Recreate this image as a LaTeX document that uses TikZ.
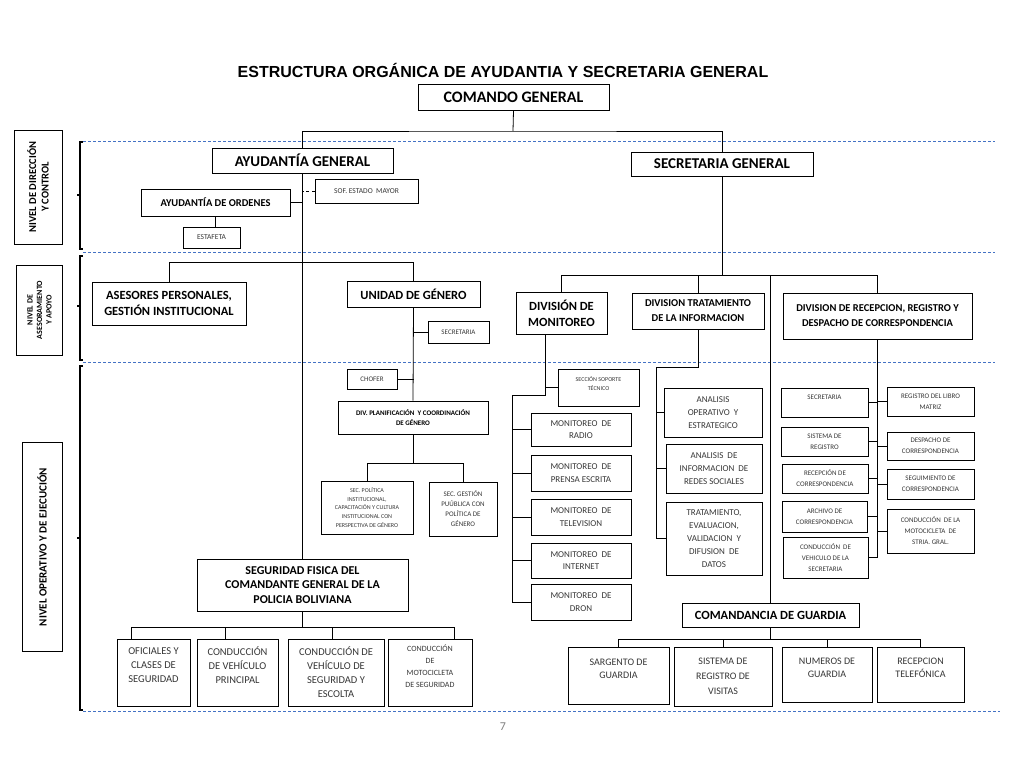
\documentclass[tikz,border=0pt]{standalone}
\usepackage{fontspec}
\setmainfont{Carlito}
\newfontfamily\arialfont{Liberation Sans}
\newcommand\fsz[2]{\fontsize{#1}{#2}\selectfont}
\newcommand\bx[7][]{\node[box,minimum width={(#5-#3)*1pt},minimum height={(#6-#4)*1pt},#1] (#2) at ({(#3+#5)/2},{(#4+#6)/2}) {#7};}
\definecolor{lvlblue}{RGB}{68,114,196}
\definecolor{txtgray}{RGB}{55,55,55}
\tikzset{
  box/.style={draw, line width=0.8pt, align=center, inner sep=1pt, text=txtgray},
  bb/.style={text=black, font=\bfseries},
  lnk/.style={line width=0.8pt},
  lvl/.style={draw=lvlblue, line width=0.8pt, dash pattern=on 3pt off 2pt},
  brk/.style={line width=1.8pt}
}
\begin{document}
\begin{tikzpicture}[x=1pt,y=-1pt]
\useasboundingbox[fill=white] (0,0) rectangle (1019,767);
% title
\node[font=\arialfont\bfseries\fsz{16}{19}] (title) at (503,70) {ESTRUCTURA ORGÁNICA DE AYUDANTIA Y SECRETARIA GENERAL};
% level lines and brackets
\draw[lvl] (83,141) -- (995,141);
\draw[lvl] (83,252) -- (995,252);
\draw[lvl] (83,362) -- (995,362);
\draw[lvl] (83,711) -- (1000,711);
\draw[brk] (83,142) -- (80,142) -- (80,249) -- (83,249);
\draw[brk] (80,195) -- (77,195);
\draw[brk] (83,256) -- (80,256) -- (80,360) -- (83,360);
\draw[brk] (80,306) -- (77,306);
\draw[brk] (83,366) -- (80,366) -- (80,710) -- (83,710);
\draw[brk] (80,538) -- (77,538);
% level labels
\node[box, bb, rotate=90, minimum width=114pt, minimum height=48pt, font=\bfseries\fsz{10.5}{12.5}] (l1) at (38,187) {NIVEL DE DIRECCIÓN\\Y CONTROL};
\node[box, bb, rotate=90, minimum width=90pt, minimum height=46pt, font=\bfseries\fsz{8}{9.5}] (l2) at (39.5,310) {NIVEL DE\\ASESORAMIENTO\\Y APOYO};
\node[box, bb, rotate=90, minimum width=209pt, minimum height=40pt, font=\bfseries\fsz{11}{13}] (l3) at (42,547) {NIVEL OPERATIVO Y DE EJECUCIÓN};
% top
\bx[bb,font=\bfseries\fsz{16}{19}]{cg}{418}{84}{609}{110}{COMANDO GENERAL}
\bx[bb,font=\bfseries\fsz{15}{18}]{ag}{212}{148}{393}{173}{AYUDANTÍA GENERAL}
\bx[bb,font=\bfseries\fsz{15}{18}]{sg}{631}{152}{813}{176}{SECRETARIA GENERAL}
\bx[font=\fsz{7.5}{9}]{sof}{315}{179}{418}{203}{SOF. ESTADO\ \ MAYOR}
\bx[bb,font=\bfseries\fsz{10.5}{12}]{ao}{141}{189}{290}{216}{AYUDANTÍA DE ORDENES}
\bx[font=\fsz{7.5}{9}]{est}{183}{227}{240}{248}{ESTAFETA}
% level 2 left
\bx[bb,font=\bfseries\fsz{12.5}{16}]{ase}{92}{282}{246}{325}{ASESORES PERSONALES,\\GESTIÓN INSTITUCIONAL}
\bx[bb,font=\bfseries\fsz{12.5}{15}]{ug}{347}{281}{480}{307}{UNIDAD DE GÉNERO}
\bx[font=\fsz{7}{9}]{sec1}{428}{321}{489}{343}{SECRETARIA}
\bx[font=\fsz{7}{9}]{cho}{347}{369}{397}{389}{CHOFER}
\bx[bb,font=\bfseries\fsz{7}{10}]{dpl}{338}{401}{488}{434}{DIV. PLANIFICACIÓN \ Y COORDINACIÓN\\DE GÉNERO}
\bx[font=\fsz{6}{8.7}]{spol}{321}{481}{413}{534}{SEC. POLÍTICA\\INSTITUCIONAL,\\CAPACITACIÓN Y CULTURA\\INSTITUCIONAL CON\\PERSPECTIVA DE GÉNERO}
\bx[font=\fsz{7}{10}]{sges}{429}{482}{497}{536}{SEC. GESTIÓN\\PUÚBLICA CON\\POLÍTICA DE\\GÉNERO}
\bx[bb,font=\bfseries\fsz{12}{14.5}]{seg}{197}{559}{408}{611}{SEGURIDAD FISICA DEL\\COMANDANTE GENERAL DE LA\\POLICIA BOLIVIANA}
\bx[font=\fsz{10.5}{14}]{o1}{117}{639}{190}{706}{OFICIALES Y\\CLASES DE\\SEGURIDAD\\\mbox{}}
\bx[font=\fsz{10.5}{14}]{o2}{197}{639}{278}{706}{CONDUCCIÓN\\DE VEHÍCULO\\PRINCIPAL\\\mbox{}}
\bx[font=\fsz{10.5}{14}]{o3}{288}{639}{384}{706}{CONDUCCIÓN DE\\VEHÍCULO DE\\SEGURIDAD Y\\ESCOLTA}
\bx[font=\fsz{8}{12}]{o4}{388}{639}{472}{706}{CONDUCCIÓN\\DE\\MOTOCICLETA\\DE SEGURIDAD\\\mbox{}}
% level 2 right
\bx[bb,font=\bfseries\fsz{12.5}{16}]{dmon}{516}{292}{607}{334}{DIVISIÓN DE\\MONITOREO}
\bx[bb,font=\bfseries\fsz{10.5}{15}]{dtrat}{632}{293}{764}{329}{DIVISION TRATAMIENTO\\DE LA INFORMACION}
\bx[bb,font=\bfseries\fsz{10.5}{15}]{drec}{783}{293}{972}{339}{DIVISION DE RECEPCION, REGISTRO Y\\DESPACHO DE CORRESPONDENCIA}
\bx[font=\fsz{6}{8.5}]{sst}{558}{369}{639}{406}{SECCIÓN SOPORTE\\TÉCNICO\\\mbox{}}
\bx[font=\fsz{9}{12.5}]{m1}{531}{413}{631}{446}{MONITOREO\ \ DE\\RADIO}
\bx[font=\fsz{9}{12.5}]{m2}{531}{455}{631}{491}{MONITOREO\ \ DE\\PRENSA ESCRITA}
\bx[font=\fsz{9}{12.5}]{m3}{531}{499}{631}{535}{MONITOREO\ \ DE\\TELEVISION}
\bx[font=\fsz{9}{12.5}]{m4}{531}{543}{631}{578}{MONITOREO\ \ DE\\INTERNET}
\bx[font=\fsz{9}{12.5}]{m5}{531}{584}{631}{620}{MONITOREO\ \ DE\\DRON}
\bx[font=\fsz{9}{13}]{a1}{664}{388}{762}{437}{ANALISIS\\OPERATIVO\ \ Y\\ESTRATEGICO}
\bx[font=\fsz{9}{13}]{a2}{666}{444}{762}{493}{ANALISIS\ \ DE\\INFORMACION\ \ DE\\REDES SOCIALES}
\bx[font=\fsz{9}{13}]{a3}{666}{502}{762}{575}{TRATAMIENTO,\\EVALUACION,\\VALIDACION\ \ Y\\DIFUSION\ \ DE\\DATOS}
\bx[font=\fsz{7}{10}]{r1}{781}{388}{868}{417}{SECRETARIA\\\mbox{}}
\bx[font=\fsz{7}{11}]{r2}{781}{427}{868}{456}{SISTEMA DE\\REGISTRO}
\bx[font=\fsz{7}{11}]{r3}{782}{464}{868}{493}{RECEPCIÓN DE\\CORRESPONDENCIA}
\bx[font=\fsz{7}{11}]{r4}{782}{501}{867}{532}{ARCHIVO DE\\CORRESPONDENCIA}
\bx[font=\fsz{7}{11}]{r5}{783}{537}{868}{578}{CONDUCCIÓN\ \ DE\\VEHICULO DE LA\\SECRETARIA}
\bx[font=\fsz{7}{11}]{q1}{887}{387}{974}{416}{REGISTRO DEL LIBRO\\MATRIZ}
\bx[font=\fsz{7}{11}]{q2}{887}{432}{974}{460}{DESPACHO DE\\CORRESPONDENCIA}
\bx[font=\fsz{7}{11}]{q3}{887}{469}{974}{499}{SEGUIMIENTO DE\\CORRESPONDENCIA}
\bx[font=\fsz{7}{11}]{q4}{887}{509}{974}{553}{CONDUCCIÓN\ \ DE LA\\MOTOCICLETA\ \ DE\\STRIA. GRAL.}
\bx[bb,font=\bfseries\fsz{12.5}{15}]{cdg}{682}{603}{859}{627}{COMANDANCIA DE GUARDIA}
\bx[font=\fsz{10}{13}]{g1}{568}{647}{669}{704}{SARGENTO DE\\GUARDIA\\\mbox{}}
\bx[font=\fsz{10}{15}]{g2}{674}{647}{772}{706}{SISTEMA DE\\REGISTRO DE\\VISITAS}
\bx[font=\fsz{10}{13}]{g3}{782}{647}{872}{702}{NUMEROS DE\\GUARDIA\\\mbox{}}
\bx[font=\fsz{10}{13}]{g4}{877}{647}{964}{702}{RECEPCION\\TELEFÓNICA\\\mbox{}}
% page number
\node[text=gray, font=\fsz{12}{14}] (pg) at (503,727) {7};
% ---- connectors
\coordinate (top) at (513,131);
\draw[lnk] (cg.south) -- (top);
\draw[lnk] (ag.north) |- (top) -| (sg.north);
\draw[lnk] (ag.south) -- (seg.north);
\draw[lnk, dashed] (sof.west) -- (sof.west -| ag.south);
\draw[lnk] (ao.east) -- (ao.east -| ag.south);
\draw[lnk] (ao.south) -- (ao.south |- est.north);
\draw[lnk] (ase.north) -- ++(0,-19) -| (ug.north);
\draw[lnk] (ug.south) -- (dpl.north);
\draw[lnk] (sec1.west) -- (sec1.west -| ug.south);
\draw[lnk] (cho.east) -- (cho.east -| ug.south);
\draw[lnk] (dpl.south) -- ++(0,29) coordinate (d1);
\draw[lnk] (spol.north) |- (d1) -| (sges.north);
% seguridad
\draw[lnk] (seg.south) -- ++(0,16) coordinate (s2);
\coordinate (h1) at (131,627);
\coordinate (h2) at (225,627);
\coordinate (h3) at (332,627);
\coordinate (h4) at (454,627);
\draw[lnk] (h1) -- (h4);
\draw[lnk] (h1) -- (h1 |- o1.north);
\draw[lnk] (h2) -- (h2 |- o2.north);
\draw[lnk] (h3) -- (h3 |- o3.north);
\draw[lnk] (h4) -- (h4 |- o4.north);
% secretaria general
\draw[lnk] (sg.south) -- ++(0,99) coordinate (s1);
\draw[lnk] (dmon.north) |- (s1) -| (drec.north);
\draw[lnk] (dtrat.north) -- (dtrat.north |- s1);
\draw[lnk] (cdg.north) -- (cdg.north |- s1);
% monitoreo
\coordinate (mA) at (545,395);
\coordinate (mB) at (512,395);
\draw[lnk] (dmon.south -| mA) -- (mA) -- (mB) |- (m5.west);
\draw[lnk] (sst.west) -- (sst.west -| mA);
\draw[lnk] (m1.west) -- (m1.west -| mB);
\draw[lnk] (m2.west) -- (m2.west -| mB);
\draw[lnk] (m3.west) -- (m3.west -| mB);
\draw[lnk] (m4.west) -- (m4.west -| mB);
% tratamiento
\coordinate (tB) at (656,367);
\draw[lnk] (dtrat.south) |- (tB) |- (a3.west);
\draw[lnk] (a1.west) -- (a1.west -| tB);
\draw[lnk] (a2.west) -- (a2.west -| tB);
% recepcion
\draw[lnk] (drec.south) |- (r5.east);
\draw[lnk] (r1.east) -- (r1.east -| drec.south);
\draw[lnk] (r2.east) -- (r2.east -| drec.south);
\draw[lnk] (r3.east) -- (r3.east -| drec.south);
\draw[lnk] (r4.east) -- (r4.east -| drec.south);
\draw[lnk] (q1.west) -- (q1.west -| drec.south);
\draw[lnk] (q2.west) -- (q2.west -| drec.south);
\draw[lnk] (q3.west) -- (q3.west -| drec.south);
\draw[lnk] (q4.west) -- (q4.west -| drec.south);
% comandancia
\draw[lnk] (cdg.south) -- ++(0,12) coordinate (c1);
\draw[lnk] (g1.north) |- (c1) -| (g4.north);
\draw[lnk] (g2.north) -- (g2.north |- c1);
\draw[lnk] (g3.north) -- (g3.north |- c1);
\end{tikzpicture}
\end{document}
